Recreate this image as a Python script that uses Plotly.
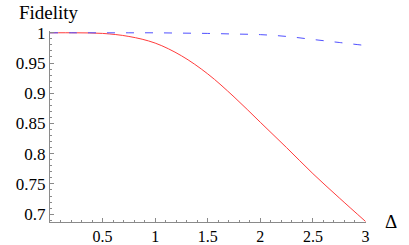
import plotly.graph_objects as go

delta = [0, 0.25, 0.5, 0.75, 1.0, 1.25, 1.5, 1.75, 2.0, 2.25, 2.5, 2.75, 3.0]
fid_red = [1.0, 1.0, 0.999, 0.994, 0.983, 0.962, 0.932, 0.894, 0.852, 0.810, 0.767, 0.727, 0.688]
fid_blue = [1.0, 1.0, 1.0, 1.0, 1.0, 0.9995, 0.999, 0.998, 0.997, 0.994, 0.989, 0.984, 0.979]

x_ticks = [0.5, 1, 1.5, 2, 2.5, 3]
x_ticklabels = ["0.5", "1", "1.5", "2", "2.5", "3"]
y_ticks = [0.7, 0.75, 0.8, 0.85, 0.9, 0.95, 1.0]
y_ticklabels = ["0.7", "0.75", "0.8", "0.85", "0.9", "0.95", "1"]

font = "Liberation Serif"

ML, MR, MT, MB = 50, 43, 31, 23
W, H = 409, 245
pw = W - ML - MR
ph = H - MT - MB


def px_to_paper(px, py):
    return (px - ML) / pw, (H - MB - py) / ph


fig = go.Figure()
fig.add_trace(go.Scatter(x=delta, y=fid_red, mode="lines",
                         line=dict(color="#ff3c3c", width=1, shape="spline"),
                         hoverinfo="skip"))
fig.add_trace(go.Scatter(x=delta, y=fid_blue, mode="lines",
                         line=dict(color="#5050ff", width=1, shape="spline", dash="8px,11px"),
                         hoverinfo="skip"))

axis_common = dict(showgrid=False, zeroline=False, showline=True, linecolor="#8a8a8a",
                   linewidth=1, ticks="inside", tickcolor="#8a8a8a", ticklen=4, tickwidth=1,
                   automargin=False)

fx, fy = px_to_paper(49, 12)
dx, dy = px_to_paper(391, 221)

fig.update_layout(
    width=W, height=H,
    margin=dict(l=ML, r=MR, t=MT, b=MB),
    paper_bgcolor="white", plot_bgcolor="white",
    showlegend=False,
    xaxis=dict(range=[0, 3.005], tickvals=x_ticks, ticktext=x_ticklabels,
               tickfont=dict(family=font, size=16, color="black"),
               minor=dict(dtick=0.1, tick0=0, ticks="inside", ticklen=2, tickcolor="#8a8a8a"),
               **axis_common),
    yaxis=dict(range=[0.687, 1.003], tickvals=y_ticks, ticktext=y_ticklabels,
               tickfont=dict(family=font, size=17, color="black"),
               minor=dict(dtick=0.01, tick0=0.7, ticks="inside", ticklen=2, tickcolor="#8a8a8a"),
               **axis_common),
    annotations=[
        dict(text="Fidelity", x=fx, y=fy, xref="paper", yref="paper", showarrow=False,
             xanchor="center", yanchor="middle",
             font=dict(family=font, size=19, color="black")),
        dict(text="Δ", x=dx, y=dy, xref="paper", yref="paper", showarrow=False,
             xanchor="center", yanchor="middle",
             font=dict(family=font, size=19, color="black")),
    ],
)

fig.write_html("out.html", config={"displayModeBar": False},
               post_script="document.body.style.margin='0';document.body.style.overflow='hidden';")
